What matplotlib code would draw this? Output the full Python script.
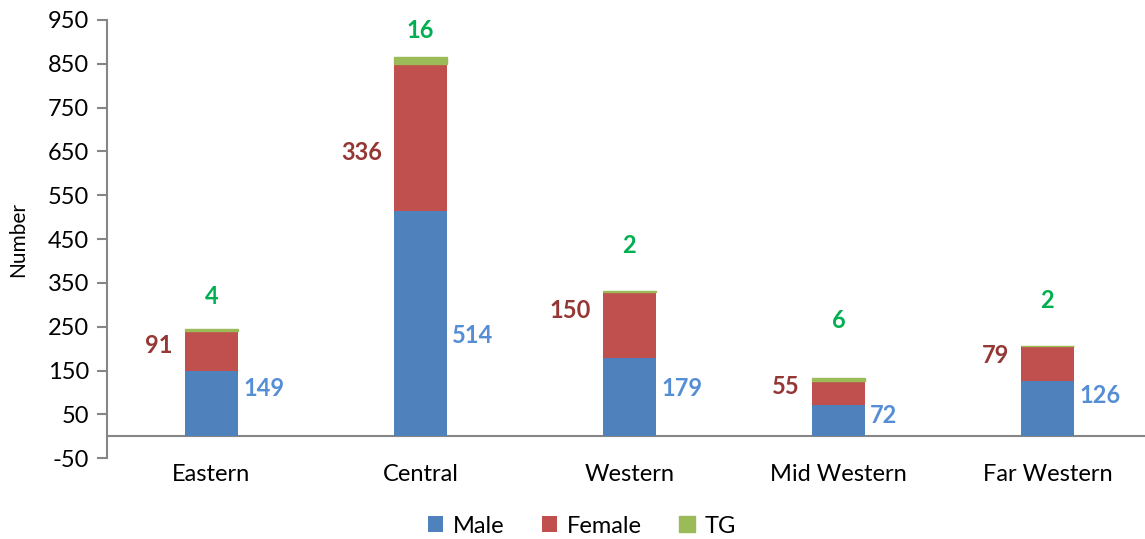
import matplotlib
matplotlib.use('Agg')
from matplotlib import pyplot as plt
import numpy as np

# Data
regions = ['Eastern', 'Central', 'Western', 'Mid Western', 'Far Western']
male = [149, 514, 179, 72, 126]
female = [91, 336, 150, 55, 79]
tg = [4, 16, 2, 6, 2]

# where the value labels sit (y in data units)
male_label_y = [110, 230, 110, 48, 94]
female_label_y = [208, 648, 288, 114, 185]
tg_label_y = [320, 927, 436, 263, 310]

plt.rcParams['font.family'] = ['Lato', 'DejaVu Sans']
plt.rcParams['axes.unicode_minus'] = False

fig = plt.figure(figsize=(11.45, 5.39), dpi=100)
ax = fig.add_axes([0.0934, 0.150, 0.9127, 0.813])

x = np.arange(len(regions))
w = 0.25
male_bottom = np.zeros(len(regions))
female_bottom = np.array(male)
tg_bottom = np.array(male) + np.array(female)

ax.bar(x, male, w, bottom=male_bottom, color='#4F81BD', label='Male', zorder=3)
ax.bar(x, female, w, bottom=female_bottom, color='#C0504D', label='Female', zorder=3)
# thin edge so the small TG counts still show as a stripe
ax.bar(x, tg, w, bottom=tg_bottom, color='#9BBB59', edgecolor='#9BBB59',
       linewidth=1, label='TG', zorder=3)

for i in range(len(regions)):
    ax.annotate(str(male[i]), (x[i] + w / 2, male_label_y[i]), xytext=(4, 0),
                textcoords='offset points', ha='left', va='center',
                color='#558ED5', fontsize=17, fontweight='bold')
    ax.annotate(str(female[i]), (x[i] - w / 2, female_label_y[i]), xytext=(-9, 0),
                textcoords='offset points', ha='right', va='center',
                color='#953735', fontsize=17, fontweight='bold')
    ax.text(x[i], tg_label_y[i], str(tg[i]), ha='center', va='center',
            color='#00B050', fontsize=17, fontweight='bold')

ax.set_ylim(-50, 950)
ax.set_yticks(np.arange(-50, 951, 100))
ax.set_xlim(-0.5, 4.5)
ax.set_xticks(x)
ax.set_xticklabels(regions)

# axis styling
ax.spines['top'].set_visible(False)
ax.spines['right'].set_visible(False)
ax.spines['bottom'].set_visible(False)
ax.spines['left'].set_color('#868686')
ax.spines['left'].set_linewidth(1.5)
ax.axhline(0, color='#868686', linewidth=1.5, zorder=2)
ax.tick_params(axis='y', colors='#868686', labelcolor='black', length=7, width=1.5, labelsize=17, pad=6)
ax.tick_params(axis='x', length=0, labelsize=17, pad=4)
ax.set_ylabel('Number', fontsize=15, labelpad=14)

fig.legend(*ax.get_legend_handles_labels(), loc='center', bbox_to_anchor=(0.508, 0.024),
           ncol=3, frameon=False, fontsize=17, handlelength=0.65, handleheight=0.65,
           columnspacing=1.6, handletextpad=0.4)

fig.savefig('out.png', dpi=100)
